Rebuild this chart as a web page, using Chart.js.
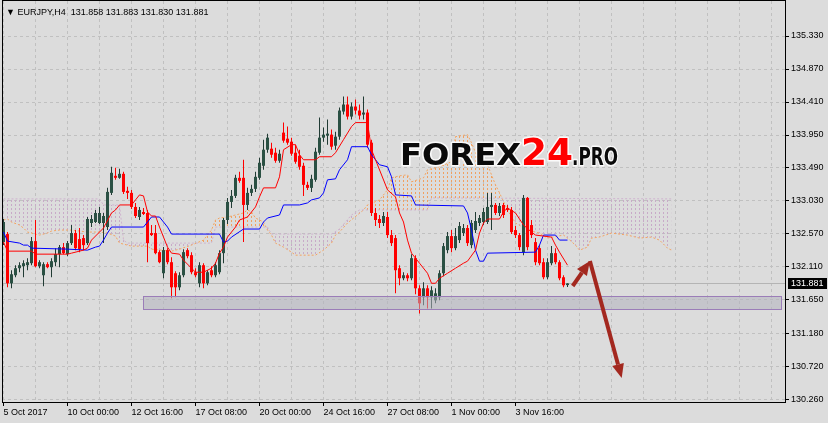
<!DOCTYPE html>
<html>
<head>
<meta charset="utf-8">
<script src="https://cdn.jsdelivr.net/npm/chart.js@4.4.0/dist/chart.umd.min.js"></script>
<style>
html, body { margin: 0; padding: 0; background: #dcdcdc; }
canvas { display: block; }
</style>
</head>
<body>
<canvas id="chart" width="828" height="423"></canvas>
<script>
// EURJPY H4 candles, one entry per bar (bar 0 = 5 Oct 2017)
const opens = [132.457, 132.569, 131.883, 131.995, 132.093, 132.121, 132.135, 132.163, 132.471, 132.121,
  131.995, 132.149, 132.107, 132.177, 132.289, 132.387, 132.289, 132.443, 132.583, 132.499,
  132.513, 132.443, 132.723, 132.737, 132.723, 132.723, 132.667, 133.143, 133.381, 133.353,
  133.409, 133.171, 133.143, 132.947, 132.807, 132.877, 132.863, 132.583, 132.583, 132.317,
  132.023, 132.345, 132.177, 132.023, 131.827, 131.995, 132.345, 132.275, 132.037, 131.883,
  132.135, 131.883, 132.065, 131.995, 132.037, 132.303, 132.765, 133.017, 133.101, 133.353,
  133.353, 132.975, 133.143, 133.199, 133.353, 133.521, 133.745, 133.759, 133.703, 133.591,
  133.983, 133.899, 133.857, 133.703, 133.661, 133.521, 133.255, 133.213, 133.325, 133.703,
  133.913, 133.941, 133.955, 133.801, 133.927, 134.277, 134.375, 134.207, 134.347, 134.291,
  134.235, 134.263, 133.843, 132.863, 132.779, 132.723, 132.807, 132.555, 132.513, 132.093,
  131.953, 131.995, 131.953, 132.233, 131.813, 131.687, 131.813, 131.687, 131.645, 131.687,
  132.023, 132.345, 132.541, 132.373, 132.485, 132.583, 132.653, 132.415, 132.625, 132.723,
  132.737, 132.737, 132.947, 132.975, 132.863, 132.975, 132.933, 132.905, 132.625, 132.555,
  132.317, 133.073, 132.695, 132.457, 132.373, 132.177, 131.967, 132.163, 132.303, 132.177,
  131.967, 131.858];
const highs = [132.779, 132.597, 132.065, 132.135, 132.177, 132.205, 132.233, 132.527, 132.765, 132.205,
  132.177, 132.177, 132.233, 132.373, 132.415, 132.443, 132.471, 132.695, 132.625, 132.653,
  132.555, 132.807, 132.835, 132.905, 132.947, 132.863, 133.213, 133.507, 133.493, 133.479,
  133.437, 133.227, 133.185, 133.003, 132.947, 132.933, 132.905, 132.695, 132.695, 132.345,
  132.387, 132.373, 132.247, 132.051, 132.037, 132.359, 132.373, 132.317, 132.093, 132.177,
  132.163, 132.065, 132.121, 132.177, 132.345, 132.793, 133.073, 133.185, 133.395, 133.437,
  133.605, 133.213, 133.255, 133.437, 133.633, 133.885, 133.969, 133.843, 133.773, 133.745,
  134.123, 134.067, 133.913, 133.815, 133.745, 133.563, 133.297, 133.395, 133.773, 134.193,
  134.053, 134.165, 134.025, 133.997, 134.333, 134.487, 134.487, 134.403, 134.445, 134.375,
  134.487, 134.305, 133.885, 132.933, 132.835, 132.877, 132.877, 132.625, 132.555, 132.135,
  132.037, 132.023, 132.289, 132.275, 131.855, 131.897, 131.855, 131.841, 131.813, 132.065,
  132.443, 132.597, 132.625, 132.653, 132.737, 132.709, 132.695, 132.765, 132.877, 132.835,
  132.933, 133.143, 133.143, 133.003, 133.003, 133.003, 132.975, 132.947, 132.681, 132.583,
  133.115, 133.087, 132.765, 132.513, 132.415, 132.233, 132.233, 132.401, 132.373, 132.205,
  131.995, 131.883];
const lows = [132.415, 131.827, 131.813, 131.967, 132.037, 131.967, 132.065, 132.135, 132.107, 132.093,
  131.841, 132.093, 131.967, 132.121, 132.107, 132.289, 132.261, 132.415, 132.345, 132.317,
  132.345, 132.415, 132.667, 132.723, 132.709, 132.443, 132.625, 133.115, 133.325, 133.339,
  133.129, 133.059, 132.919, 132.793, 132.765, 132.835, 132.177, 132.541, 132.289, 132.163,
  131.953, 132.149, 131.673, 131.687, 131.785, 131.967, 132.233, 132.009, 131.967, 131.827,
  131.813, 131.855, 131.967, 131.967, 132.009, 132.163, 132.709, 132.933, 133.073, 133.283,
  132.457, 132.905, 133.101, 133.157, 133.325, 133.465, 133.703, 133.633, 133.563, 133.563,
  133.843, 133.815, 133.661, 133.549, 133.465, 133.101, 133.185, 133.157, 133.297, 133.675,
  133.857, 133.815, 133.745, 133.745, 133.885, 134.235, 134.165, 134.165, 134.235, 134.165,
  134.165, 133.773, 132.821, 132.681, 132.653, 132.681, 132.513, 132.401, 131.743, 131.855,
  131.925, 131.911, 131.925, 131.729, 131.463, 131.575, 131.533, 131.533, 131.603, 131.645,
  131.981, 132.303, 132.317, 132.345, 132.443, 132.541, 132.401, 132.373, 132.583, 132.681,
  132.695, 132.709, 132.625, 132.835, 132.821, 132.793, 132.877, 132.569, 132.513, 132.345,
  132.275, 132.345, 132.513, 132.135, 132.135, 131.939, 131.939, 132.135, 132.149, 131.925,
  131.827, 131.830];
const closes = [132.737, 131.883, 132.009, 132.093, 132.135, 132.163, 132.177, 132.471, 132.121, 132.177,
  132.149, 132.107, 132.191, 132.289, 132.387, 132.303, 132.443, 132.583, 132.373, 132.359,
  132.415, 132.779, 132.779, 132.863, 132.863, 132.821, 133.157, 133.423, 133.353, 133.409,
  133.157, 133.143, 132.947, 132.821, 132.905, 132.849, 132.443, 132.555, 132.303, 132.177,
  132.345, 132.177, 131.827, 131.827, 131.995, 132.317, 132.261, 132.037, 131.995, 132.135,
  131.883, 132.037, 131.995, 132.135, 132.303, 132.765, 133.017, 133.101, 133.353, 133.311,
  132.975, 133.143, 133.199, 133.367, 133.563, 133.745, 133.913, 133.675, 133.591, 133.689,
  133.871, 133.843, 133.689, 133.577, 133.507, 133.255, 133.213, 133.339, 133.717, 133.913,
  133.955, 133.969, 133.787, 133.927, 134.291, 134.375, 134.207, 134.347, 134.291, 134.221,
  134.263, 133.815, 132.863, 132.765, 132.723, 132.821, 132.555, 132.443, 132.065, 131.953,
  131.995, 131.953, 132.233, 131.813, 131.603, 131.813, 131.687, 131.785, 131.743, 132.023,
  132.401, 132.541, 132.373, 132.541, 132.681, 132.653, 132.443, 132.723, 132.751, 132.793,
  132.877, 132.947, 132.975, 132.863, 132.961, 132.835, 132.905, 132.597, 132.555, 132.387,
  133.073, 132.387, 132.555, 132.177, 132.163, 131.967, 132.177, 132.303, 132.177, 131.953,
  131.855, 131.881];

// Ichimoku lines as [bar, price] points
const tenkan = [[0,132.457],[1,132.331],[7,132.331],[8,132.289],[16,132.289],[17,132.303],[20,132.345],[21,132.373],[22,132.485],[24,132.597],
  [25,132.653],[27,132.863],[28,132.905],[29,132.975],[32,132.975],[33,133.045],[34,133.115],[35,133.101],[36,132.877],[37,132.821],
  [38,132.821],[39,132.667],[40,132.527],[41,132.387],[42,132.303],[44,132.289],[45,132.205],[47,132.093],[48,132.037],[50,132.037],
  [52,132.093],[53,132.163],[54,132.303],[55,132.387],[56,132.527],[58,132.667],[59,132.765],[61,132.807],[63,132.947],[64,133.087],
  [65,133.213],[68,133.213],[69,133.367],[70,133.745],[72,133.815],[73,133.815],[74,133.675],[75,133.605],[78,133.605],[79,133.647],
  [82,133.647],[83,133.703],[85,133.885],[87,134.067],[88,134.123],[91,134.123],[92,133.745],[93,133.605],[96,133.185],[98,133.087],
  [99,132.863],[100,132.737],[101,132.485],[102,132.303],[104,132.163],[106,132.023],[107,131.883],[108,131.883],[109,131.953],[111,132.023],
  [113,132.093],[115,132.163],[116,132.191],[118,132.345],[119,132.583],[120,132.723],[121,132.779],[124,132.779],[125,132.877],[126,132.933],
  [128,132.863],[130,132.695],[132,132.597],[133,132.555],[137,132.527],[138,132.415],[139,132.317],[141,132.135]];
const kijun = [[0,132.597],[1,132.471],[4,132.443],[5,132.415],[6,132.415],[7,132.373],[16,132.359],[21,132.345],[23,132.387],[24,132.401],
  [25,132.485],[26,132.583],[27,132.667],[35,132.667],[36,132.737],[37,132.807],[39,132.807],[41,132.667],[42,132.569],[54,132.569],
  [55,132.457],[56,132.471],[57,132.527],[60,132.639],[64,132.639],[65,132.737],[66,132.793],[69,132.835],[70,132.975],[74,132.975],
  [76,133.003],[77,133.045],[79,133.073],[80,133.143],[81,133.325],[83,133.339],[84,133.465],[86,133.605],[87,133.787],[91,133.787],
  [92,133.675],[94,133.535],[96,133.507],[97,133.367],[98,133.115],[102,133.101],[103,132.975],[115,132.961],[116,132.863],[117,132.625],
  [118,132.345],[119,132.191],[120,132.191],[121,132.303],[133,132.317],[134,132.415],[135,132.555],[138,132.555],[139,132.485],[141,132.485]];
const spanA = [[0,132.765],[1,132.779],[2,132.737],[4,132.695],[5,132.653],[6,132.597],[9,132.555],[11,132.583],[12,132.611],[14,132.625],
  [17,132.625],[19,132.611],[21,132.597],[24,132.597],[26,132.583],[28,132.541],[29,132.443],[31,132.415],[32,132.401],[36,132.401],
  [37,132.359],[42,132.331],[44,132.359],[47,132.415],[50,132.485],[52,132.625],[53,132.765],[54,132.793],[56,132.807],[60,132.863],
  [61,132.905],[62,132.877],[63,132.793],[65,132.737],[66,132.625],[67,132.555],[68,132.443],[70,132.387],[72,132.317],[73,132.275],
  [78,132.275],[80,132.345],[82,132.443],[83,132.555],[84,132.597],[86,132.723],[90,132.905],[91,132.975],[94,133.045],[96,133.185],
  [97,133.353],[99,133.381],[101,133.395],[102,133.297],[105,133.353],[106,133.465],[109,133.507],[112,133.577],[113,133.927],[116,133.955],
  [117,133.843],[119,133.563],[121,133.535],[123,133.255],[124,133.143],[126,132.905],[128,132.723],[131,132.625],[134,132.583],[136,132.513],
  [140,132.555],[141,132.513],[143,132.415],[144,132.345],[146,132.387],[147,132.513],[149,132.527],[152,132.583],[156,132.555],[159,132.513],
  [162,132.527],[164,132.485],[166,132.373],[167,132.345]];
const spanB = [[0,133.059],[24,133.059],[25,132.975],[29,132.975],[30,132.485],[31,132.443],[52,132.443],[53,132.667],[66,132.667],[67,132.569],
  [82,132.569],[84,132.639],[87,132.835],[89,132.905],[106,132.905],[107,133.073],[167,133.059]];

const priceTicks = [130.26, 130.72, 131.18, 131.65, 132.11, 132.57, 133.03, 133.49, 133.95, 134.41, 134.87, 135.33];
const timeTicks = [0, 16, 32, 48, 64, 80, 96, 112, 128];
const timeLabels = ['5 Oct 2017', '10 Oct 00:00', '12 Oct 16:00', '17 Oct 08:00', '20 Oct 00:00',
  '24 Oct 16:00', '27 Oct 08:00', '1 Nov 00:00', '3 Nov 16:00'];
const lastPrice = 131.881;
const titleText = '\u25BC EURJPY,H4  131.858 131.883 131.830 131.881';

// support zone and forecast arrows, in bar / price units
const zone = { from: 34.9, to: 194.4, low: 131.524, high: 131.706 };
const arrowUp = [[142.3, 131.845], [146.6, 132.194]];
const arrowDown = [[146.6, 132.194], [154.55, 130.563]];

const bull = '#2a5043', bullWick = '#213b34', bear = '#ff0000';
const gridTicks = [];
for (let i = 0; i <= 192; i += 8) gridTicks.push(i);

function hatch(color) {
  const c = document.createElement('canvas');
  c.width = 4; c.height = 4;
  const g = c.getContext('2d');
  g.fillStyle = color;
  g.fillRect(3, 0, 1, 2);
  return g.createPattern(c, 'repeat');
}

const pts = arr => arr.map(p => ({ x: p[0], y: p[1] }));
const isUp = i => closes[i] >= opens[i];

function arrow(ctx, x0, y0, x1, y1) {
  const a = Math.atan2(y1 - y0, x1 - x0), L = 14, W = 6;
  const bx = x1 - L * Math.cos(a), by = y1 - L * Math.sin(a);
  ctx.beginPath(); ctx.moveTo(x0, y0); ctx.lineTo(bx, by); ctx.stroke();
  ctx.beginPath();
  ctx.moveTo(x1, y1);
  ctx.lineTo(bx + W * Math.sin(a), by - W * Math.cos(a));
  ctx.lineTo(bx - W * Math.sin(a), by + W * Math.cos(a));
  ctx.closePath(); ctx.fill();
}

function logoPart(ctx, text, x, base, font, color, width) {
  ctx.font = font;
  const w = ctx.measureText(text).width;
  ctx.save();
  ctx.translate(x, base);
  ctx.scale(width / w, 1);
  ctx.lineJoin = 'round';
  ctx.lineWidth = 3;
  ctx.strokeStyle = 'rgba(255,255,255,0.85)';
  ctx.strokeText(text, 0, 0);
  ctx.fillStyle = color;
  ctx.fillText(text, 0, 0);
  ctx.restore();
}

const overlay = {
  id: 'overlay',
  beforeDatasetsDraw(chart) {
    const { ctx, chartArea: a, scales: { y } } = chart;
    const yb = Math.round(y.getPixelForValue(lastPrice)) + 0.5;
    ctx.save();
    ctx.strokeStyle = '#b4b4b4';
    ctx.lineWidth = 1;
    ctx.beginPath(); ctx.moveTo(a.left, yb); ctx.lineTo(a.right, yb); ctx.stroke();
    ctx.restore();
  },
  afterDatasetsDraw(chart) {
    const { ctx, scales: { x, y } } = chart;
    // support zone
    const x0 = Math.round(x.getPixelForValue(zone.from)), x1 = Math.round(x.getPixelForValue(zone.to));
    const y0 = Math.round(y.getPixelForValue(zone.high)), y1 = Math.round(y.getPixelForValue(zone.low));
    ctx.save();
    ctx.fillStyle = 'rgba(178,178,190,0.55)';
    ctx.fillRect(x0, y0, x1 - x0, y1 - y0);
    ctx.strokeStyle = '#9b7db8';
    ctx.lineWidth = 1;
    ctx.strokeRect(x0 + 0.5, y0 + 0.5, x1 - x0, y1 - y0);
    // arrows
    ctx.strokeStyle = '#a3281f';
    ctx.fillStyle = '#a3281f';
    ctx.lineWidth = 4;
    for (const ar of [arrowUp, arrowDown]) {
      arrow(ctx, x.getPixelForValue(ar[0][0]), y.getPixelForValue(ar[0][1]),
        x.getPixelForValue(ar[1][0]), y.getPixelForValue(ar[1][1]));
    }
    // watermark
    logoPart(ctx, 'FOREX', 400, 165, 'bold 30px "DejaVu Sans"', '#0a0a0a', 121);
    logoPart(ctx, '24', 521, 165, 'bold 38px "DejaVu Sans"', '#ff0000', 52);
    logoPart(ctx, '.PRO', 572, 165, 'bold 25px "DejaVu Sans"', '#0a0a0a', 46);
    ctx.restore();
  },
  afterDraw(chart) {
    const { ctx, chartArea: a, scales: { y } } = chart;
    ctx.save();
    ctx.strokeStyle = '#000';
    ctx.lineWidth = 1;
    ctx.strokeRect(a.left + 0.5, a.top - 0.5, a.right - a.left, a.bottom - a.top + 1);
    const yp = Math.round(y.getPixelForValue(lastPrice));
    ctx.fillStyle = '#000';
    ctx.fillRect(a.right + 3, yp - 5, 39, 11);
    ctx.fillStyle = '#fff';
    ctx.font = '9px "Liberation Sans"';
    ctx.textBaseline = 'middle';
    ctx.fillText(lastPrice.toFixed(3), a.right + 6, yp + 0.5);
    ctx.fillStyle = '#000';
    ctx.textBaseline = 'alphabetic';
    ctx.fillText(titleText, 6, 15);
    ctx.restore();
  }
};

new Chart(document.getElementById('chart'), {
  type: 'line',
  data: {
    datasets: [
      { type: 'line', data: pts(tenkan), borderColor: '#ff0000', borderWidth: 1, pointRadius: 0, tension: 0, order: 0 },
      { type: 'line', data: pts(kijun), borderColor: '#0000ff', borderWidth: 1, pointRadius: 0, tension: 0, order: 1 },
      {
        type: 'bar', order: 2, grouped: false, barThickness: 3, minBarLength: 1, borderWidth: 0, inflateAmount: 0,
        data: opens.map((o, i) => ({ x: i, y: [o, closes[i]] })),
        backgroundColor: c => isUp(c.dataIndex) ? bull : bear
      },
      {
        type: 'bar', order: 3, grouped: false, barThickness: 1, borderWidth: 0, inflateAmount: 0,
        data: lows.map((l, i) => ({ x: i, y: [l, highs[i]] })),
        backgroundColor: c => isUp(c.dataIndex) ? bullWick : bear
      },
      {
        type: 'line', order: 5, data: pts(spanA), borderColor: '#f4a460', borderWidth: 1, borderDash: [2, 2],
        pointRadius: 0, tension: 0,
        fill: { target: 5, above: hatch('#f0a060'), below: hatch('#c8aac8') }
      },
      {
        type: 'line', order: 4, data: pts(spanB), borderColor: '#cfb2cf', borderWidth: 1, borderDash: [2, 2],
        pointRadius: 0, tension: 0, fill: false
      }
    ]
  },
  options: {
    responsive: false,
    animation: false,
    events: [],
    layout: { padding: { left: 2, top: 1, right: 0, bottom: 0 } },
    plugins: { legend: { display: false }, tooltip: { enabled: false } },
    scales: {
      x: {
        type: 'linear', position: 'bottom', min: -0.375, max: 195.375, offset: false,
        afterBuildTicks: s => { s.ticks = gridTicks.map(v => ({ value: v })); },
        afterFit: s => { s.height = 21; s.paddingLeft = 0; s.paddingRight = 0; },
        grid: {
          offset: false, color: '#c0c0c0', lineWidth: 1, tickLength: 4, tickBorderDash: [],
          tickColor: c => (c.tick && timeTicks.includes(c.tick.value)) ? '#000' : 'rgba(0,0,0,0)'
        },
        border: { display: false, dash: [3, 3] },
        ticks: {
          autoSkip: false, maxRotation: 0, minRotation: 0, align: 'start', padding: 1, color: '#000',
          font: { family: 'Liberation Sans', size: 9 },
          callback: v => { const k = timeTicks.indexOf(v); return k >= 0 ? timeLabels[k] : ''; }
        }
      },
      y: {
        type: 'linear', position: 'right', min: 130.228, max: 135.818,
        afterBuildTicks: s => { s.ticks = priceTicks.map(v => ({ value: v })); },
        afterFit: s => { s.width = 43; s.paddingTop = 0; s.paddingBottom = 0; },
        grid: { color: '#c0c0c0', lineWidth: 1, tickLength: 4, tickColor: '#000', tickBorderDash: [] },
        border: { display: false, dash: [3, 3] },
        ticks: {
          padding: 2, color: '#000', font: { family: 'Liberation Sans', size: 9 },
          callback: v => v.toFixed(3)
        }
      }
    }
  },
  plugins: [overlay]
});
</script>
</body>
</html>
